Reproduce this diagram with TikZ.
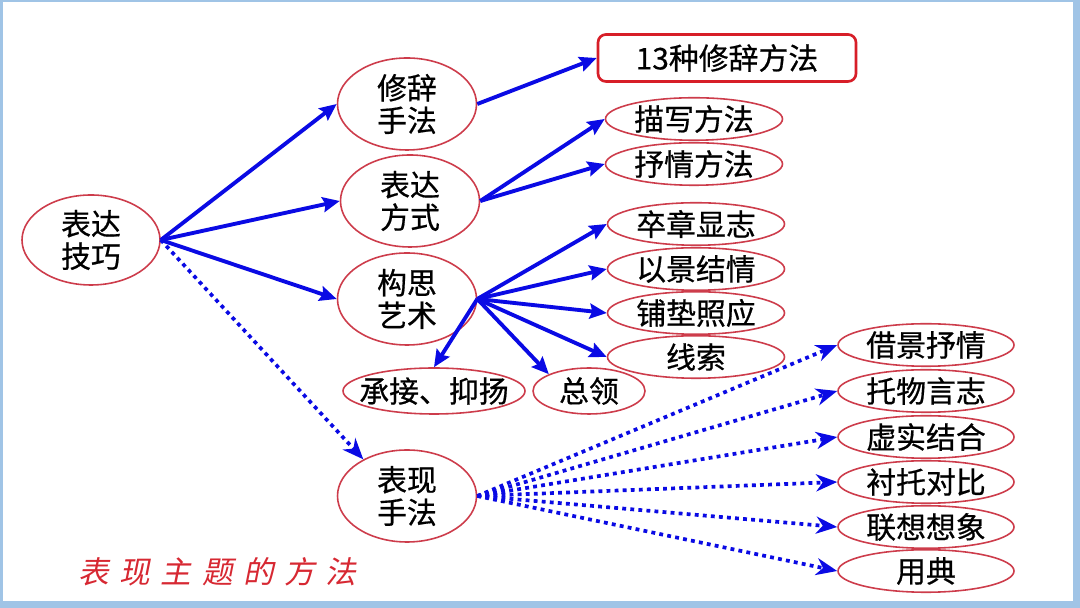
\documentclass[tikz,border=0pt]{standalone}
\usepackage{fontspec}
\setmainfont[FakeBold=0.6]{Noto Sans CJK SC}
\newfontfamily\titlefont[FakeSlant=0.2,LetterSpace=34]{Noto Sans CJK SC}
\usetikzlibrary{shapes.geometric,arrows.meta}
\definecolor{rimred}{RGB}{205,60,75}
\definecolor{boxred}{RGB}{215,30,40}
\definecolor{arrowblue}{RGB}{10,10,228}
\definecolor{framebg}{RGB}{160,196,230}
\definecolor{titlered}{RGB}{215,40,50}
\tikzset{
  bubble/.style={ellipse, draw=rimred, line width=0.9pt, fill=white, inner sep=0pt, align=center, font=\fontsize{17}{18.5}\selectfont},
  bigbubble/.style={bubble, minimum width=2.78cm, minimum height=1.84cm},
  leaf/.style={bubble, minimum width=3.54cm, minimum height=0.85cm},
  tagbox/.style={rectangle, rounded corners=0.16cm, draw=boxred, line width=1.5pt, fill=white, minimum width=5.16cm, minimum height=0.94cm, font=\fontsize{17}{18.5}\selectfont},
  link/.style={draw=arrowblue, line width=2.2pt, -{Stealth[length=0.34cm, width=0.3cm, inset=0.05cm]}},
  dotlink/.style={draw=arrowblue, line width=2.1pt, dash pattern=on 2.2pt off 2.4pt, -{Stealth[length=0.42cm, width=0.34cm, inset=0.13cm]}},
}

\begin{document}
\begin{tikzpicture}
\useasboundingbox (0,0) rectangle (21.6,12.16);
\fill[framebg] (0,0) rectangle (21.6,12.16);
\fill[white] (0.06,0.14) rectangle (21.46,12.12);
% main branches
\node[bigbubble, minimum width=2.76cm, minimum height=1.80cm] (jq) at (1.820,7.360) {表达\\技巧};
\node[bigbubble] (xc) at (8.140,10.080) {修辞\\手法};
\node[bigbubble] (bd) at (8.200,8.140) {表达\\方式};
\node[bigbubble] (gs) at (8.140,6.180) {构思\\艺术};
\node[bigbubble] (bx) at (8.140,2.240) {表现\\手法};
% leaves
\node[tagbox] (xcff) at (14.540,11.000) {13种修辞方法};
\node[leaf] (mxff) at (13.880,9.780) {描写方法};
\node[leaf] (sqff) at (13.880,8.880) {抒情方法};
\node[leaf] (zzxz) at (13.920,7.680) {卒章显志};
\node[leaf] (yjjq) at (13.920,6.780) {以景结情};
\node[leaf] (pdzy) at (13.920,5.900) {铺垫照应};
\node[leaf] (xians) at (13.920,5.020) {线索};
\node[leaf, inner xsep=-0.27cm, minimum width=3.64cm, minimum height=0.92cm] (cjyy) at (8.680,4.340) {承接、抑扬};
\node[leaf, minimum width=2.24cm, minimum height=0.92cm] (zongl) at (11.780,4.340) {总领};
\node[leaf, minimum width=3.52cm] (jjsq) at (18.520,5.260) {借景抒情};
\node[leaf, minimum width=3.52cm] (twyz) at (18.520,4.340) {托物言志};
\node[leaf, minimum width=3.52cm] (xsjh) at (18.520,3.420) {虚实结合};
\node[leaf, minimum width=3.52cm] (ctdb) at (18.520,2.520) {衬托对比};
\node[leaf, minimum width=3.52cm] (lxxx) at (18.520,1.620) {联想想象};
\node[leaf, minimum width=3.52cm] (yongd) at (18.520,0.740) {用典};
\node[text=titlered, font=\titlefont\fontsize{17.5}{19}\selectfont] (zhuti) at (4.350,0.720) {表现主题的方法};
% connectors
\draw[link] (jq.east) -- (xc.west);
\draw[link] (jq.east) -- (bd.west);
\draw[link] (jq.east) -- (gs.west);
\draw[dotlink] (jq.east) -- (bx.140);
\draw[link] (xc.east) -- (xcff.west);
\draw[link] (bd.east) -- (mxff.west);
\draw[link] (bd.east) -- (sqff.west);
\draw[link] (gs.east) -- (zzxz.west);
\draw[link] (gs.east) -- (yjjq.west);
\draw[link] (gs.east) -- (pdzy.west);
\draw[link] (gs.east) -- (xians.west);
\draw[link] (gs.east) -- (cjyy.north);
\draw[link] (gs.east) -- (zongl.north west);
\draw[dotlink] (bx.east) -- (jjsq.west);
\draw[dotlink] (bx.east) -- (twyz.west);
\draw[dotlink] (bx.east) -- (xsjh.west);
\draw[dotlink] (bx.east) -- (ctdb.west);
\draw[dotlink] (bx.east) -- (lxxx.west);
\draw[dotlink] (bx.east) -- (yongd.west);
\end{tikzpicture}
\end{document}
